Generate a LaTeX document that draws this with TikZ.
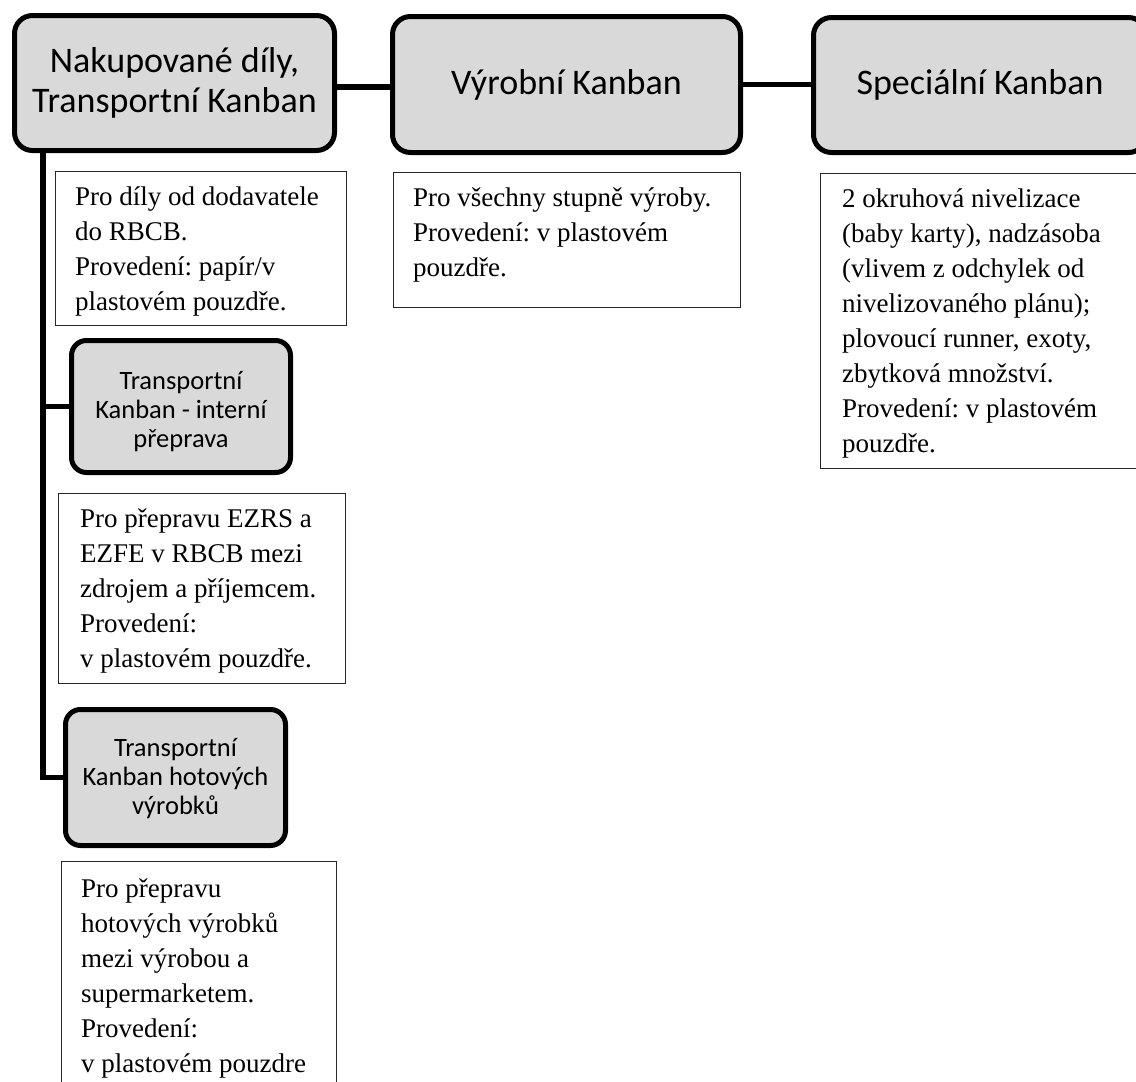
\documentclass[tikz,border=0pt]{standalone}
\usepackage{fontspec}
\setmainfont{Liberation Serif}
\newfontfamily\boxfont{Carlito}
\definecolor{boxgray}{HTML}{D9D9D9}
\frenchspacing
\newcommand\notelines[1]{\parbox[t]{330pt}{\fontsize{27}{35}\selectfont\raggedright #1}}
\begin{document}
\begin{tikzpicture}[x=1pt,y=-1pt,
  headbox/.style={draw=black, line width=5pt, fill=boxgray, rounded corners=18pt,
    inner sep=0pt, align=center, font=\boxfont\fontsize{36}{40}\selectfont},
  subbox/.style={draw=black, line width=5pt, fill=boxgray, rounded corners=15pt,
    inner sep=0pt},
  subtext/.style={inner sep=0pt, align=center, font=\boxfont\fontsize{26.5}{29}\selectfont},
  notebox/.style={draw=black!85, line width=1.3pt, fill=white, inner sep=0pt,
    anchor=north west},
  notetext/.style={anchor=base west, inner sep=0pt},
  link/.style={line width=5.5pt}]
\useasboundingbox (0,0) rectangle (1136,1082);
\clip (0,0) rectangle (1136,1082);

% top level categories
\node[headbox, minimum width=320pt, minimum height=135pt] (n1) at (174.5,83)
  {Nakupované díly,\\Transportní Kanban};
\node[headbox, minimum width=348pt, minimum height=136pt] (n2) at (566.5,84.5)
  {Výrobní Kanban};
\node[headbox, minimum width=333pt, minimum height=135pt] (n3) at (980,85)
  {Speciální Kanban};

% sub categories of the transport kanban
\node[subbox, minimum width=219pt, minimum height=132pt] (n4) at (181,406.5) {};
\node[subtext] (l4) at ([yshift=-5pt]n4.center) {Transportní\\Kanban - interní\\přeprava};
\node[subbox, minimum width=220pt, minimum height=136pt] (n5) at (175.5,777.5) {};
\node[subtext] (l5) at ([yshift=-1pt]n5.center) {Transportní\\Kanban hotových\\výrobků};

% connectors
\coordinate (trunk) at (43,150);
\draw[link] ([yshift=-4pt]n1.east) -- ([yshift=-4pt]n1.east -| n2.west);
\draw[link] (n2.east) -- (n2.east -| n3.west);
\draw[link] (trunk) |- (n5.west);
\draw[link] (trunk |- n4.west) -- (n4.west);

% description boxes
\node[notebox, minimum width=291pt, minimum height=154pt] (t1) at (55,171) {};
\node[notebox, minimum width=347pt, minimum height=135pt] (t2) at (393,172) {};
\node[notebox, minimum width=325pt, minimum height=295pt] (t3) at (820,173) {};
\node[notebox, minimum width=287pt, minimum height=190pt] (t4) at (58,493) {};
\node[notebox, minimum width=275pt, minimum height=240pt] (t5) at (61,861) {};

\begin{scope}
  \clip (t1.north west) rectangle ([yshift=9pt]t1.south east);
  \node[notetext] (d1) at (75,205)
    {\notelines{Pro díly od dodavatele\\do RBCB.\\Provedení: papír/v\\plastovém pouzdře.}};
\end{scope}
\node[notetext] (d2) at (413,206)
  {\notelines{Pro všechny stupně výroby.\\Provedení: v plastovém\\pouzdře.}};
\node[notetext] (d3) at (842,207)
  {\notelines{2 okruhová nivelizace\\(baby karty), nadzásoba\\(vlivem z odchylek od\\nivelizovaného plánu);\\plovoucí runner, exoty,\\zbytková množství.\\Provedení: v plastovém\\pouzdře.}};
\node[notetext] (d4) at (80,527)
  {\notelines{Pro přepravu EZRS a\\EZFE v RBCB mezi\\zdrojem a příjemcem.\\Provedení:\\v plastovém pouzdře.}};
\begin{scope}
  \clip (t5.north west) rectangle (336,1077);
  \node[notetext] (d5) at (81,897)
    {\notelines{Pro přepravu\\hotových výrobků\\mezi výrobou a\\supermarketem.\\Provedení:\\v plastovém pouzdre}};
\end{scope}
\end{tikzpicture}
\end{document}
